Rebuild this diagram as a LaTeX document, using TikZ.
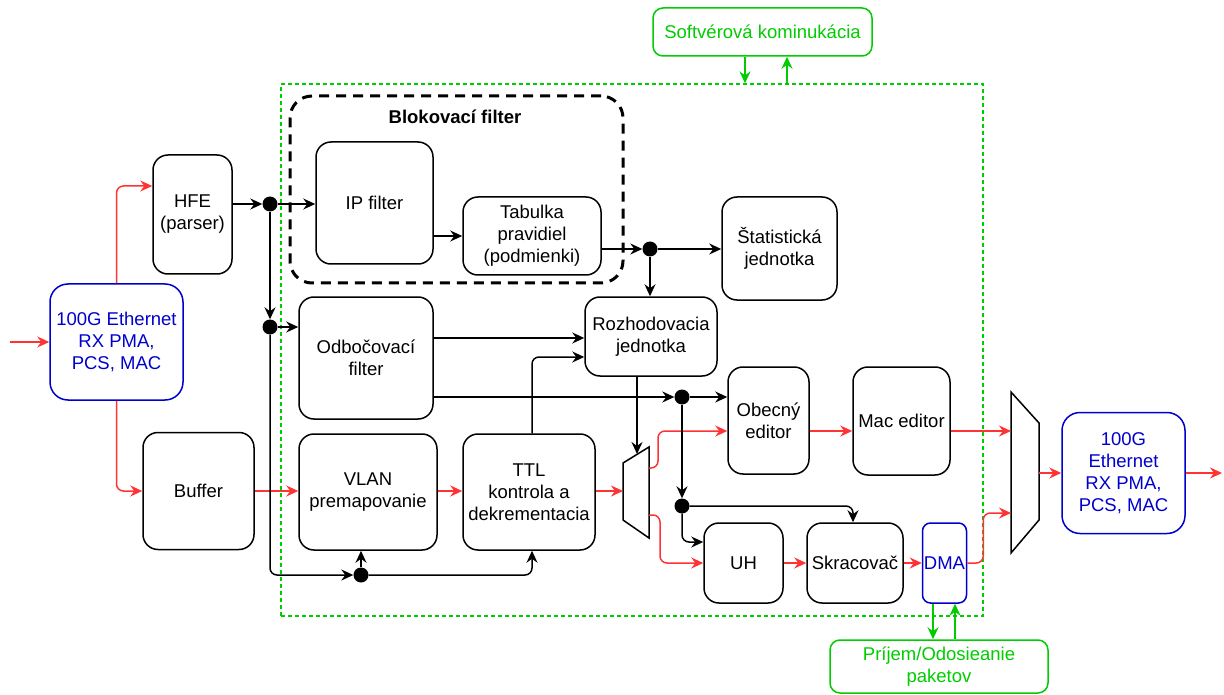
\documentclass[tikz,border=0pt]{standalone}
\usepackage{fontspec}
\setmainfont{Liberation Sans}
\usetikzlibrary{arrows.meta}
\definecolor{pktred}{HTML}{FF3333}
\definecolor{ethblue}{HTML}{0000CC}
\definecolor{swgreen}{HTML}{00CC00}

\begin{document}
\begin{tikzpicture}[x=1pt,y=-1pt,
  font=\fontsize{18.5}{22}\selectfont,
  blk/.style={draw=black, line width=1.5pt, rounded corners=15pt, align=center, inner sep=0pt},
  ethbox/.style={blk, draw=ethblue, text=ethblue, rounded corners=18pt},
  grnbox/.style={blk, draw=swgreen, text=swgreen, rounded corners=10pt},
  tip/.style={-{Stealth[length=12pt,width=11pt,inset=4pt]}},
  ctl/.style={tip, line width=1.5pt, rounded corners=7pt},
  pkt/.style={ctl, draw=pktred, fill=none},
  swl/.style={ctl, draw=swgreen},
  junc/.style={circle, fill=black, inner sep=0pt, minimum size=15pt},
  muxshape/.style={draw=black, line width=1.5pt, line join=miter},
]
\useasboundingbox (0,0) rectangle (1224,695);

% hardware region and the blocking filter group
\node[draw=swgreen, line width=1.3pt, dash pattern=on 4pt off 3pt,
      minimum width=702pt, minimum height=532pt, inner sep=0pt] (core) at (632,350) {};
\node[draw=black, line width=3pt, dash pattern=on 10pt off 7pt, rounded corners=22pt,
      minimum width=333pt, minimum height=187pt, inner sep=0pt] (blok) at (456.5,189.5) {};
\node[font=\fontsize{18.5}{22}\selectfont\bfseries] (bloklbl) at (455,117) {Blokovací filter};

% external blocks
\node[ethbox, minimum width=133pt, minimum height=116pt] (in1) at (116.5,342) {100G Ethernet\\RX PMA,\\PCS, MAC};
\node[ethbox, minimum width=123pt, minimum height=121pt] (out) at (1123.5,473) {100G\\Ethernet\\RX PMA,\\PCS, MAC};
\node[grnbox, minimum width=219pt, minimum height=48pt] (soft) at (762.5,32) {Softvérová kominukácia};
\node[grnbox, minimum width=218pt, minimum height=53pt] (rxtx) at (939,666.5) {Príjem/Odosieanie\\paketov};

% processing blocks
\node[blk, minimum width=79pt, minimum height=119pt] (hfe) at (192.5,214.5) {HFE\\(parser)};
\node[blk, minimum width=111pt, minimum height=117pt] (buf) at (198.5,491) {Buffer};
\node[blk, minimum width=117pt, minimum height=122pt] (ipf) at (374.5,203) {IP filter};
\node[blk, minimum width=138pt, minimum height=78pt] (tab) at (532,236) {Tabulka\\pravidiel\\(podmienki)};
\node[blk, minimum width=115pt, minimum height=103pt] (stat) at (779.5,248.5) {Štatistická\\jednotka};
\node[blk, minimum width=132pt, minimum height=79pt] (roz) at (651,336.5) {Rozhodovacia\\jednotka};
\node[blk, minimum width=134pt, minimum height=122pt] (odb) at (366,358) {Odbočovací\\filter};
\node[blk, minimum width=138pt, minimum height=116pt] (vlan) at (368,492) {VLAN\\premapovanie};
\node[blk, minimum width=132pt, minimum height=116pt] (ttl) at (529,492) {TTL\\kontrola a\\dekrementacia};
\node[blk, minimum width=81pt, minimum height=107pt] (obe) at (768.5,420.5) {Obecný\\editor};
\node[blk, minimum width=97pt, minimum height=108pt] (mac) at (901.5,421) {Mac editor};
\node[blk, minimum width=79pt, minimum height=80pt] (uh) at (743.5,563) {UH};
\node[blk, minimum width=96pt, minimum height=80pt] (skr) at (855,563) {Skracovač};
\node[blk, draw=ethblue, text=ethblue, rounded corners=8pt, minimum width=44pt, minimum height=80pt] (dma) at (944.5,563) {DMA};

% multiplexers
\draw[muxshape] (623,463) -- (649,447) -- (649,538) -- (623,520) -- cycle;
\coordinate (m1in) at (623,491);
\coordinate (m1top) at (637,454);
\coordinate (m1o1) at (649,468);
\coordinate (m1o2) at (649,515);
\draw[muxshape] (1011,392) -- (1039,423) -- (1039,520) -- (1011,553) -- cycle;
\coordinate (m2i1) at (1011,431);
\coordinate (m2i2) at (1011,513);
\coordinate (m2out) at (1039,473);

% terminals of the packet path
\coordinate (src) at (10,342);
\coordinate (dst) at (1222,473);

% junctions
\node[junc] (d1) at (270,204) {};
\node[junc] (d2) at (270,327) {};
\node[junc] (d3) at (650,249) {};
\node[junc] (d4) at (682,397) {};
\node[junc] (d5) at (682,506) {};
\node[junc] (d6) at (361,575) {};

% packet data path
\draw[pkt] (src) -- (in1.west);
\draw[pkt] (in1.north) |- (hfe.west |- 0,186);
\draw[pkt] (in1.south) |- (buf.west);
\draw[pkt] (buf.east) -- (vlan.west |- buf.east);
\draw[pkt] (vlan.east |- buf.east) -- (ttl.west |- buf.east);
\draw[pkt] (ttl.east |- m1in) -- (m1in);
\draw[pkt] (m1o1) -- ++(9,0) |- (obe.west |- 0,431);
\draw[pkt] (m1o2) -- ++(11,0) |- (uh.west);
\draw[pkt] (obe.east |- 0,431) -- (mac.west |- 0,431);
\draw[pkt] (mac.east |- m2i1) -- (m2i1);
\draw[pkt] (uh.east) -- (skr.west);
\draw[pkt] (skr.east) -- (dma.west);
\draw[pkt] (dma.east) -- ++(16,0) |- (m2i2);
\draw[pkt] (m2out) -- (out.west);
\draw[pkt] (out.east) -- (dst);

% control path
\draw[ctl] (hfe.east |- d1) -- (d1);
\draw[ctl] (d1) -- (ipf.west |- d1);
\draw[ctl] (d1) -- (d2);
\draw[ctl] (d2) -- (odb.west |- d2);
\draw[ctl] (d2) |- (d6);
\draw[ctl] (d6) -- (vlan.south -| d6);
\draw[ctl] (d6) -| (ttl.south -| 532,0);
\draw[ctl] (ttl.north -| 532,0) |- (roz.west |- 0,357);
\draw[ctl] (ipf.east |- 0,236) -- (tab.west |- 0,236);
\draw[ctl] (tab.east |- d3) -- (d3);
\draw[ctl] (d3) -- (stat.west |- d3);
\draw[ctl] (d3) -- (roz.north -| d3);
\draw[ctl] (odb.east |- 0,338) -- (roz.west |- 0,338);
\draw[ctl] (odb.east |- d4) -- (d4);
\draw[ctl] (d4) -- (obe.west |- d4);
\draw[ctl] (roz.south -| m1top) -- (m1top);
\draw[ctl] (d4) -- (d5);
\draw[ctl] (d5) |- (uh.west |- 0,542);
\draw[ctl] (d5) -| (skr.north -| 853,0);

% software links
\draw[swl] (soft.south -| 745,0) -- (core.north -| 745,0);
\draw[swl] (core.north -| 787,0) -- (soft.south -| 787,0);
\draw[swl] (dma.south -| 933,0) -- (rxtx.north -| 933,0);
\draw[swl] (rxtx.north -| 955,0) -- (dma.south -| 955,0);
\end{tikzpicture}
\end{document}
